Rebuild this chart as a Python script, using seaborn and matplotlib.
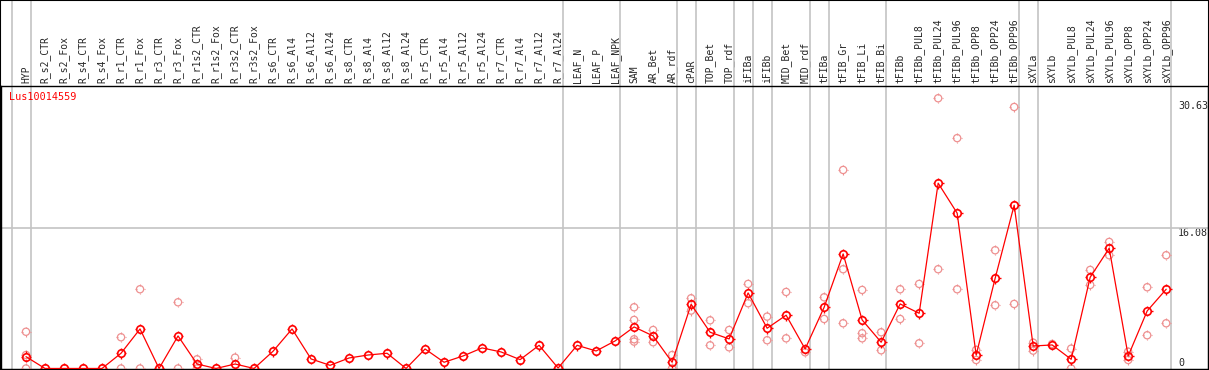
import numpy as np
import pandas as pd
import matplotlib
matplotlib.use("Agg")
import matplotlib.pyplot as plt
from matplotlib.path import Path
from matplotlib.patches import Rectangle
import seaborn as sns

# ---------------- data ----------------
samples = ["HYP", "R_s2_CTR", "R_s2_Fox", "R_s4_CTR", "R_s4_Fox", "R_r1_CTR", "R_r1_Fox",
           "R_r3_CTR", "R_r3_Fox", "R_r1s2_CTR", "R_r1s2_Fox", "R_r3s2_CTR", "R_r3s2_Fox",
           "R_s6_CTR", "R_s6_Al4", "R_s6_Al12", "R_s6_Al24", "R_s8_CTR", "R_s8_Al4",
           "R_s8_Al12", "R_s8_Al24", "R_r5_CTR", "R_r5_Al4", "R_r5_Al12", "R_r5_Al24",
           "R_r7_CTR", "R_r7_Al4", "R_r7_Al12", "R_r7_Al24", "LEAF_N", "LEAF_P", "LEAF_NPK",
           "SAM", "AR_Bet", "AR_rdf", "cPAR", "TOP_Bet", "TOP_rdf", "iFIBa", "iFIBb",
           "MID_Bet", "MID_rdf", "tFIBa", "tFIB_Gr", "tFIB_Li", "tFIB_Bi", "tFIBb",
           "tFIBb_PUL8", "tFIBb_PUL24", "tFIBb_PUL96", "tFIBb_OPP8", "tFIBb_OPP24",
           "tFIBb_OPP96", "sXYLa", "sXYLb", "sXYLb_PUL8", "sXYLb_PUL24", "sXYLb_PUL96",
           "sXYLb_OPP8", "sXYLb_OPP24", "sXYLb_OPP96"]

mean_expr = [1.35, 0, 0, 0, 0, 1.74, 4.52, 0, 3.72, 0.51, 0, 0.51, 0,
             1.97, 4.52, 1.09, 0.36, 1.2, 1.54, 1.74, 0, 2.23, 0.71, 1.43, 2.35,
             1.89, 1.01, 2.65, 0.05, 2.65, 2.0, 3.15,
             4.75, 3.72, 0.71, 7.34, 4.14, 3.38, 8.64, 4.6,
             6.09, 2.23, 7.0, 13.1, 5.55, 3.0, 7.38,
             6.31, 21.19, 17.76, 1.54, 10.32, 18.67,
             2.57, 2.69, 1.05, 10.43, 13.75, 1.43, 6.58, 9.06]

replicates = [[4.2, 1.54, 0], [], [], [], [], [3.57, 0], [9.06, 0], [], [7.57, 0], [1.05, 0], [], [1.24], [],
              [], [], [], [], [], [], [], [], [], [], [], [],
              [], [], [], [], [], [], [],
              [7.0, 5.55, 3.34, 3.07], [4.4, 3.0], [1.54, 0], [8.03, 6.62], [5.51, 2.65], [4.4, 2.42],
              [9.67, 7.46], [5.93, 3.23],
              [8.75, 3.45], [1.85], [8.14, 5.66], [22.7, 11.35, 5.17], [8.98, 4.03, 3.45], [4.14, 2.08],
              [9.06, 5.66],
              [9.67, 2.88], [30.9, 11.35], [26.34, 9.06], [2.12, 0.97], [13.52, 7.23], [29.9, 7.38],
              [2.95, 2.04], [2.8], [2.27, 0], [11.27, 9.55], [14.47, 12.95], [1.92, 0.97],
              [9.29, 3.8], [12.95, 5.17]]

y_ticks = [0, 16.08, 30.63]
y_tick_labels = ["0", "16.08", "30.63"]
group_ends = [-1, 0, 28, 31, 34, 35, 37, 38, 39, 41, 42, 45, 52, 53, 60]
gene_name = "Lus10014559"

# ---------------- frames ----------------
pos = np.arange(len(samples))
df_mean = pd.DataFrame({"pos": pos, "value": mean_expr})
rep_pos, rep_val = [], []
for i, reps in enumerate(replicates):
    for v in reps:
        rep_pos.append(i)
        rep_val.append(v)
df_rep = pd.DataFrame({"pos": rep_pos, "value": rep_val})

# ---------------- style ----------------
sns.set_style("white")
plt.rcParams["font.family"] = ["DejaVu Sans Mono", "DejaVu Sans"]

# tick-only marker: four short outward strokes around the circle
tick_verts = [(0.68, 0), (1.0, 0), (-0.68, 0), (-1.0, 0), (0, 0.68), (0, 1.0), (0, -0.68), (0, -1.0)]
tick_codes = [Path.MOVETO, Path.LINETO] * 4
ticks_marker = Path(tick_verts, tick_codes)

W, H = 1209, 370
fig = plt.figure(figsize=(W / 100, H / 100), dpi=100)
ax = fig.add_axes([1 / W, 1 / H, 1207 / W, 283 / H])

RED = "#ff0000"
PINK = "#ee9090"
GRAY = "#c4c4c4"

# replicates
sns.scatterplot(data=df_rep, x="pos", y="value", ax=ax, marker="o", s=27,
                facecolors="none", edgecolor=PINK, linewidth=0.9, zorder=3, legend=False)
sns.scatterplot(data=df_rep, x="pos", y="value", ax=ax, marker=ticks_marker, s=55,
                facecolors="none", edgecolor=PINK, linewidth=0.8, zorder=3, legend=False)
# mean line
sns.lineplot(data=df_mean, x="pos", y="value", ax=ax, color=RED, linewidth=0.9,
             marker="o", markersize=5.4, markerfacecolor="none", markeredgecolor=RED,
             markeredgewidth=1.2, zorder=4, legend=False)
sns.scatterplot(data=df_mean, x="pos", y="value", ax=ax, marker=ticks_marker, s=60,
                facecolors="none", edgecolor=RED, linewidth=1.0, zorder=4, legend=False)

ax.set_xlim(-1.316, 62.2)
ax.set_ylim(-0.06, 32.3)

# grid
ax.axhline(16.08, color=GRAY, lw=1.2, zorder=1)
for g in group_ends:
    ax.axvline(g + 0.25, ymin=0, ymax=369 / 283, color=GRAY, lw=1.2, clip_on=False, zorder=1)

# x labels on top
ax.xaxis.tick_top()
ax.set_xticks(pos)
ax.set_xticklabels(samples, rotation=90, fontsize=7, va="bottom", ha="center")
ax.tick_params(axis="x", length=0, pad=2.0)
ax.set_xlabel("")

# y labels inside right
ax.yaxis.tick_right()
ax.set_yticks(y_ticks)
ax.set_yticklabels(y_tick_labels, fontsize=7.2)
ax.tick_params(axis="y", length=0, pad=-21.6)
for lbl, v in zip(ax.get_yticklabels(), y_ticks):
    lbl.set_ha("left")
    lbl.set_va("bottom" if v == 0 else "top")
ax.set_ylabel("")

for s in ax.spines.values():
    s.set_color("black")
    s.set_linewidth(1.0)

ax.annotate(gene_name, xy=(0, 1), xycoords="axes fraction", xytext=(5.5, -8),
            textcoords="offset points", color=RED, fontsize=7.3, ha="left", va="center")

fig.patches.append(Rectangle((0, 0), 1, 1, transform=fig.transFigure, fill=False,
                             ec="black", lw=1.5, zorder=10))

fig.savefig("out.png", dpi=100)
